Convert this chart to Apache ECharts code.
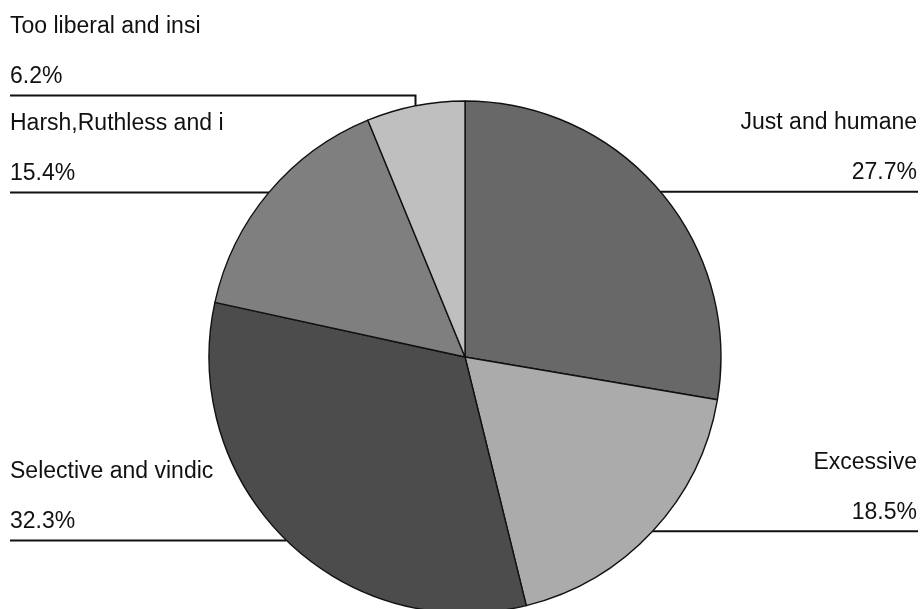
<!DOCTYPE html>
<html>
<head>
<meta charset="utf-8">
<script src="https://cdn.jsdelivr.net/npm/echarts@6/dist/echarts.min.js"></script>
<style>
  html, body { margin: 0; padding: 0; background: #fff; }
  #chart { width: 922px; height: 609px; }
</style>
</head>
<body>
<div id="chart"></div>
<script>
const categories = ['Just and humane', 'Excessive', 'Selective and vindic', 'Harsh,Ruthless and i', 'Too liberal and insi'];
const shares = [27.7, 18.5, 32.3, 15.4, 6.2];
const sliceColors = ['#686868', '#ababab', '#4c4c4c', '#7f7f7f', '#bfbfbf'];

const chart = echarts.init(document.getElementById('chart'));

// horizontal leader lines: remember where lines were placed on each side
const placed = { left: [], right: [] };
const blockGap = 97;

const option = {
  backgroundColor: '#fff',
  animation: false,
  series: [{
    type: 'pie',
    center: [465, 357],
    radius: 256,
    startAngle: 90,
    clockwise: true,
    avoidLabelOverlap: false,
    itemStyle: {
      borderColor: '#111',
      borderWidth: 1.4
    },
    label: {
      show: true,
      position: 'outer',
      alignTo: 'edge',
      edgeDistance: 10,
      formatter: '{b}\n{c}%',
      fontFamily: 'Liberation Sans, Arial, sans-serif',
      fontSize: 23,
      lineHeight: 50,
      color: '#111'
    },
    labelLine: {
      show: true,
      length: 10,
      length2: 10,
      lineStyle: { color: '#111', width: 2 }
    },
    labelLayout: function (params) {
      const start = params.labelLinePoints[0];
      const side = start[0] < 465 ? 'left' : 'right';
      let lineY = start[1];
      placed[side].forEach(function (y) {
        if (y > lineY - 1 && y - lineY < blockGap) lineY = y - blockGap;
      });
      placed[side].push(lineY);
      const edgeX = side === 'left' ? 10 : 918;
      const pts = [start];
      if (Math.abs(lineY - start[1]) > 0.5) pts.push([start[0], lineY]);
      pts.push([start[0], lineY]);
      pts.push([edgeX, lineY]);
      return {
        x: side === 'left' ? 10 : 917,
        y: lineY - 44,
        align: side,
        verticalAlign: 'middle',
        labelLinePoints: pts
      };
    },
    data: categories.map(function (name, i) {
      return { name: name, value: shares[i], itemStyle: { color: sliceColors[i] } };
    })
  }]
};

chart.setOption(option);
</script>
</body>
</html>
